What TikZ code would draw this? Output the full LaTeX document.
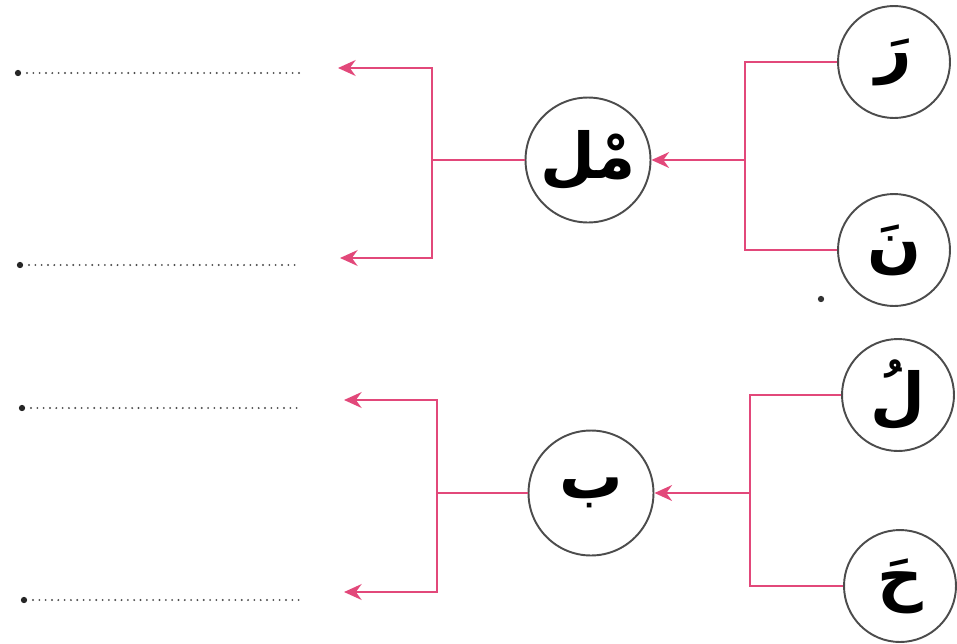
\documentclass[tikz,border=0pt]{standalone}
\usepackage{fontspec}
\TeXXeTstate=1
\newfontfamily\arabicfont[Script=Arabic]{DejaVu Sans}
\usepackage{tikz}
\usetikzlibrary{arrows.meta}
\definecolor{rosa}{RGB}{226,72,122}

\begin{document}
\begin{tikzpicture}[x=0.02cm,y=-0.02cm,
		lettera/.style={circle,draw=black!70,line width=1.1pt,fill=white,minimum size=2.24cm,inner sep=0pt,font=\arabicfont\bfseries\fontsize{36}{40}\selectfont},
		sillaba/.style={lettera,minimum size=2.5cm},
		linea/.style={rosa,line width=1.4pt},
		freccia/.style={linea,-{Stealth[length=10pt,width=9pt]}},
		puntini/.style={black!70,line width=1.2pt,line cap=round,dash pattern=on 0pt off 3.6pt}]
			
			\useasboundingbox (0,0) rectangle (957,643);
			
			% Le lettere a destra
			\node[lettera] (ra) at (894,62) {\beginR رَ\endR};
			\node[lettera] (nun) at (894,250) {\beginR نَ\endR};
			\node[lettera] (lam) at (898,395) {\beginR لُ\endR};
			\node[lettera] (ha) at (900,586) {\beginR حَ\endR};
			
			% Le sillabe al centro
			\node[sillaba] (mal) at (588,160) {\beginR مْل\endR};
			\node[sillaba] (ba) at (591,493) {\beginR ب\endR};
			
			% Il punto isolato
			\fill[black!80] (821,299) circle (1.8pt);
			
			% Primo gruppo
			\coordinate (nodo1) at (745,160);
			\coordinate (snodo1) at (432,160);
			\coordinate (fine1) at (338,68);
			\coordinate (fine2) at (340,258);
			\draw[linea] (ra.west) -| (nodo1) |- (nun.west);
			\draw[freccia] (nodo1) -- (mal.east);
			\draw[linea] (mal.west) -- (snodo1);
			\draw[freccia] (snodo1) |- (fine1);
			\draw[freccia] (snodo1) |- (fine2);
			
			% Secondo gruppo
			\coordinate (nodo2) at (750,493);
			\coordinate (snodo2) at (437,493);
			\coordinate (fine3) at (344,400);
			\coordinate (fine4) at (344,592);
			\draw[linea] (lam.west) -| (nodo2) |- (ha.west);
			\draw[freccia] (nodo2) -- (ba.east);
			\draw[linea] (ba.west) -- (snodo2);
			\draw[freccia] (snodo2) |- (fine3);
			\draw[freccia] (snodo2) |- (fine4);
			
			% Le righe puntinate
			\foreach \y/\x in {73/18, 265/20, 408/22, 600/24} {
				\fill[black!85] (\x,\y) circle (1.8pt);
				\draw[puntini] (\x+9,\y) -- (300,\y);
			}
			
		\end{tikzpicture}
\end{document}
